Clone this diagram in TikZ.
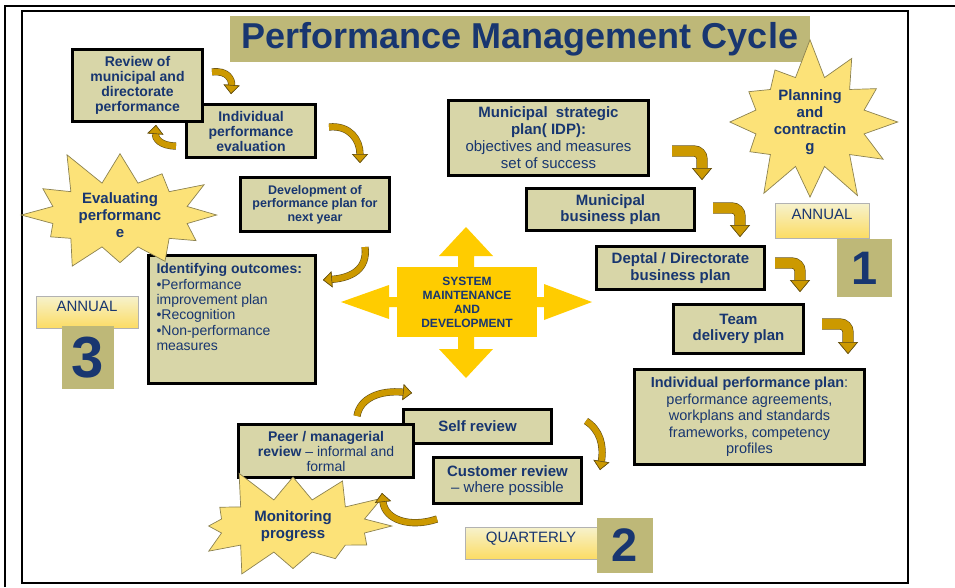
\documentclass[tikz,border=0pt]{standalone}
\usepackage{fontspec}
\setmainfont{Liberation Sans}
\usepackage{tikz}
\usetikzlibrary{shapes.symbols, arrows.meta, positioning}

\definecolor{boxfill}{RGB}{216,214,168}
\definecolor{navy}{RGB}{24,54,112}
\definecolor{titlefill}{RGB}{190,184,120}
\definecolor{starfill}{RGB}{252,226,120}
\definecolor{staredge}{RGB}{140,130,80}
\definecolor{sysgold}{RGB}{255,204,0}
\definecolor{arrowfill}{RGB}{204,153,0}
\definecolor{arrowedge}{RGB}{100,80,20}
\definecolor{tagtop}{RGB}{246,242,205}
\definecolor{tagbot}{RGB}{252,220,100}

\tikzstyle{box} = [rectangle, draw=black, line width=3pt, fill=boxfill, text=navy, align=center, inner sep=1pt]
\tikzstyle{burst} = [starburst, starburst points=12, starburst point height=40pt, fill=starfill, draw=staredge, line width=0.7pt, text=navy, align=center, inner sep=0pt, font=\bfseries\fontsize{15}{17}\selectfont]
\tikzstyle{tag} = [rectangle, draw=gray!60, line width=1pt, top color=tagtop, bottom color=tagbot, text=navy, text height=11pt, text depth=13pt, font=\fontsize{15}{17}\selectfont]
\tikzstyle{numbox} = [rectangle, fill=titlefill, text=navy, font=\bfseries\fontsize{47}{47}\selectfont]
\tikzstyle{cycarrow} = [draw=arrowfill, line width=6pt, -{Triangle[length=9pt,width=16pt,color=arrowedge,fill=arrowfill,line width=0.6pt]}, preaction={draw=arrowedge,line width=7.2pt}]
\tikzstyle{bentarrow} = [draw=arrowfill, line width=10pt, rounded corners=8pt, -{Triangle[length=12pt,width=20pt,color=arrowedge,fill=arrowfill,line width=0.6pt]}, preaction={draw=arrowedge,line width=11.2pt}]

\begin{document}
\begin{tikzpicture}[x=1pt, y=-1pt]

\useasboundingbox[fill=white] (0,0) rectangle (955,587);
\draw[line width=2pt] (5,587) -- (5,6) -- (955,6);
\draw[line width=2pt] (22,11) rectangle (908,583);

% Title
\node (title) [rectangle, fill=titlefill, minimum width=580pt, minimum height=46pt, text=navy, font=\bfseries\fontsize{36}{40}\selectfont] at (520,39) {Performance Management Cycle};

% Evaluating side
\node (ind) [box, minimum width=129pt, minimum height=53pt, font=\bfseries\fontsize{14}{15}\selectfont] at (251,131) {Individual\\performance\\evaluation};
\node (rev) [box, minimum width=130pt, minimum height=72pt, font=\bfseries\fontsize{14}{15}\selectfont] at (137.5,85.5) {Review of\\municipal and\\directorate\\performance};
\node (dev) [box, minimum width=149pt, minimum height=54pt, font=\bfseries\fontsize{12.5}{13.5}\selectfont] at (315,204.5) {Development of\\performance plan for\\next year};
\node (outc) [box, inner sep=8pt, font=\fontsize{14}{15.4}\selectfont] at (232,319.5) {\parbox[t][112pt][t]{151pt}{\raggedright
  \textbf{Identifying outcomes:}\\
  \textbullet{}Performance\\
  improvement plan\\
  \textbullet{}Recognition\\
  \textbullet{}Non-performance\\
  measures}};

% Planning side
\node (strat) [box, minimum width=200pt, minimum height=75pt, font=\fontsize{15}{17}\selectfont] at (548.5,138) {\textbf{Municipal\ \ strategic}\\\textbf{plan( IDP):}\\objectives and measures\\set of success};
\node (mbus) [box, minimum width=168pt, minimum height=42pt, font=\bfseries\fontsize{15}{16.5}\selectfont] at (610.5,209.5) {Municipal\\business plan};
\node (dept) [box, minimum width=168pt, minimum height=43pt, font=\bfseries\fontsize{15}{16.5}\selectfont] at (680.5,268) {Deptal / Directorate\\business plan};
\node (team) [box, minimum width=130pt, minimum height=49pt, font=\bfseries\fontsize{15}{16.5}\selectfont] at (738.5,329) {Team\\delivery plan};
\node (iplan) [box, minimum width=230pt, minimum height=95pt, font=\fontsize{14.5}{16.5}\selectfont] at (749.5,417) {\textbf{Individual performance plan}:\\performance agreements,\\workplans and standards\\frameworks, competency\\profiles};

% Monitoring side
\node (self) [box, minimum width=148pt, minimum height=34pt, font=\bfseries\fontsize{15}{16.5}\selectfont] at (477.5,426.5) {Self review};
\node (peer) [box, minimum width=175pt, minimum height=53pt, font=\fontsize{14}{15}\selectfont] at (326,451) {\textbf{Peer / managerial}\\\textbf{review} – informal and\\formal};
\node (cust) [box, minimum width=148pt, minimum height=46pt, font=\fontsize{15}{16.5}\selectfont] at (507.5,480.5) {\textbf{Customer review}\\– where possible};

% System maintenance cross
\fill[sysgold] (458,302) -- (458,256) -- (439,256) -- (466,227) -- (493,256) -- (474,256) -- (474,302) -- cycle;
\fill[sysgold] (458,302) -- (458,349) -- (439,349) -- (466,378) -- (493,349) -- (474,349) -- (474,302) -- cycle;
\fill[sysgold] (467,297) -- (389,297) -- (389,285) -- (341,302) -- (389,319) -- (389,307) -- (467,307) -- cycle;
\fill[sysgold] (467,297) -- (544,297) -- (544,284) -- (592,302) -- (544,320) -- (544,307) -- (467,307) -- cycle;
\node (sys) [rectangle, fill=sysgold, minimum width=140pt, minimum height=70pt, text=navy, align=center, font=\bfseries\fontsize{12}{14}\selectfont] at (467,302) {SYSTEM\\MAINTENANCE\\AND\\DEVELOPMENT};

% Starbursts
\node (plan) [burst, random starburst=7, minimum width=192pt, minimum height=156pt] at (810,122) {Planning\\and\\contractin\\g};
\node (eval) [burst, random starburst=11, starburst point height=38pt, minimum width=215pt, minimum height=142pt] at (120,215) {Evaluating\\performanc\\e};
\node (mon) [burst, random starburst=5, starburst point height=36pt, minimum width=220pt, minimum height=126pt] at (293,526) {Monitoring\\progress};

% Period tags
\node (ann1) [tag, minimum width=94pt, minimum height=35pt] at (822,220.5) {ANNUAL};
\node (num1) [numbox, minimum width=55pt, minimum height=58pt] at (864.5,268) {1};
\node (ann3) [tag, minimum width=102pt, minimum height=32pt] at (87,312) {ANNUAL};
\node (num3) [numbox, minimum width=52pt, minimum height=63pt, font=\bfseries\fontsize{58}{58}\selectfont] at (88,357.5) {3};
\node (quart) [tag, minimum width=132pt, minimum height=32pt] at (531,543) {QUARTERLY};
\node (num2) [numbox, minimum width=56pt, minimum height=55pt] at (625,545.5) {2};

% Arrow ends
\coordinate (a1s) at (212,72);   \coordinate (a1e) at (231,94);
\coordinate (a2s) at (176,146);  \coordinate (a2e) at (156,125);
\coordinate (a3s) at (329,127);  \coordinate (a3e) at (360,163);
\coordinate (a4s) at (365,247);  \coordinate (a4e) at (323,280);
\coordinate (b1s) at (672,151);  \coordinate (b1e) at (702,180);
\coordinate (b2s) at (713,208);  \coordinate (b2e) at (740,237);
\coordinate (b3s) at (775,263);  \coordinate (b3e) at (800,292);
\coordinate (b4s) at (822,324);  \coordinate (b4e) at (848,354);
\coordinate (c1s) at (357,416);  \coordinate (c1e) at (412,393);
\coordinate (c2s) at (586,421);  \coordinate (c2e) at (600,470);
\coordinate (c3s) at (437,519);  \coordinate (c3e) at (382,493);

% Connections
\draw [cycarrow] (a1s) .. controls (228,70) and (232,80) .. (a1e);
\draw [cycarrow] (a2s) .. controls (160,146) and (155,138) .. (a2e);
\draw [cycarrow] (a3s) .. controls (350,125) and (360,140) .. (a3e);
\draw [cycarrow] (a4s) .. controls (368,270) and (350,278) .. (a4e);
\draw [bentarrow] (b1s) -| (b1e);
\draw [bentarrow] (b2s) -| (b2e);
\draw [bentarrow] (b3s) -| (b3e);
\draw [bentarrow] (b4s) -| (b4e);
\draw [cycarrow] (c1s) .. controls (360,398) and (380,390) .. (c1e);
\draw [cycarrow] (c2s) .. controls (600,430) and (604,445) .. (c2e);
\draw [cycarrow] (c3s) .. controls (410,528) and (385,520) .. (c3e);

\end{tikzpicture}
\end{document}
